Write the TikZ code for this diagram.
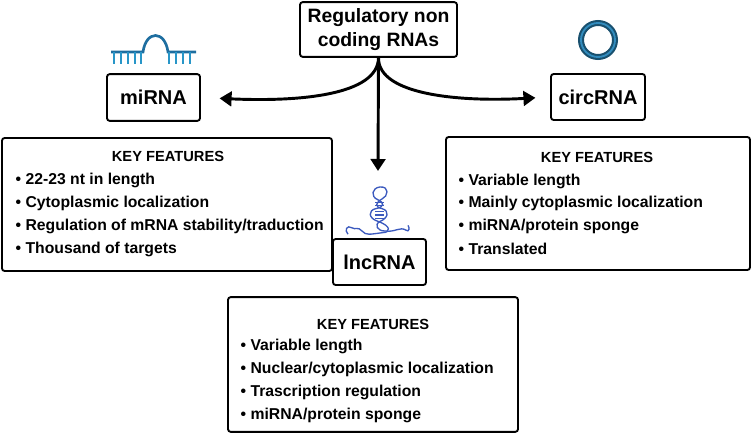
\documentclass[tikz,border=0pt]{standalone}
\usepackage{fontspec}
\setmainfont{Liberation Sans}
\usetikzlibrary{arrows.meta}
\begin{document}
\begin{tikzpicture}[x=0.75pt,y=-0.75pt,
  box/.style={draw,line width=1.4pt,rounded corners=2pt,inner sep=0pt},
  lab/.style={box,font=\bfseries\fontsize{15}{18}\selectfont},
  arr/.style={line width=2.2pt,-{Triangle[length=9pt,width=11pt]}},
  kf/.style={font=\bfseries\fontsize{11}{13}\selectfont},
  bl/.style={anchor=west,font=\bfseries\fontsize{11.8}{14}\selectfont},
  rna/.style={draw={rgb,255:red,30;green,110;blue,160},line width=1.6pt}]
\useasboundingbox (0,0) rectangle (752,434);
% main boxes
\node[lab,minimum width=117.75pt,minimum height=41pt,align=center,font=\bfseries\fontsize{14.5}{18}\selectfont] (top) at (378.5,29.5) {Regulatory non\\coding RNAs};
\node[lab,minimum width=69.75pt,minimum height=35pt] (mi) at (153.5,97.5) {miRNA};
\node[lab,minimum width=70.5pt,minimum height=34.5pt] (circ) at (598,97) {circRNA};
\node[lab,minimum width=69.75pt,minimum height=34.5pt] (lnc) at (379.5,262) {lncRNA};
% arrows
\draw[arr,shorten >=14pt] (top.south) .. controls (378,95) and (300,102) .. (mi.east);
\draw[arr,shorten >=11pt] (top.south) .. controls (378,95) and (460,102) .. (circ.west);
\coordinate (dn) at (378,171);
\draw[arr] (top.south) -- (dn);
% feature boxes
\node[box,minimum width=247.5pt,minimum height=99.75pt] (fl) at (167,204.5) {};
\node[kf] (fla) at (168,156) {KEY FEATURES};
\node[bl] (fl1) at (11,180) {• 22-23 nt in length};
\node[bl] (fl2) at (11,203) {• Cytoplasmic localization};
\node[bl] (fl3) at (11,226) {• Regulation of mRNA stability/traduction};
\node[bl] (fl4) at (11,249) {• Thousand of targets};
\node[box,minimum width=228pt,minimum height=99.75pt] (fr) at (598,203.5) {};
\node[kf] (fra) at (597,157) {KEY FEATURES};
\node[bl] (fr1) at (454,181) {• Variable length};
\node[bl] (fr2) at (454,203) {• Mainly cytoplasmic localization};
\node[bl] (fr3) at (454,226) {• miRNA/protein sponge};
\node[bl] (fr4) at (454,249) {• Translated};
\node[box,minimum width=217.5pt,minimum height=101pt] (fb) at (373,364.5) {};
\node[kf] (fba) at (373,324) {KEY FEATURES};
\node[bl] (fb1) at (236,346) {• Variable length};
\node[bl] (fb2) at (236,369) {• Nuclear/cytoplasmic localization};
\node[bl] (fb3) at (236,392) {• Trascription regulation};
\node[bl] (fb4) at (236,415) {• miRNA/protein sponge};
% miRNA icon
\draw[rna,line width=2pt] (111,52) -- (143,52) .. controls (146,30) and (165,30) .. (168,52) -- (196,52);
\foreach \x in {114,121,128,135,141,169,176,183,190}
  \draw[rna,draw={rgb,255:red,40;green,150;blue,200},line width=1.6pt] (\x,52) -- (\x,64);
% circRNA icon
\draw[line width=4.5pt,draw={rgb,255:red,25;green,80;blue,110}] (598,40) circle (17);
\draw[line width=1.4pt,draw={rgb,255:red,50;green,140;blue,190}] (598,40) circle (17);
% lncRNA icon
\begin{scope}[draw={rgb,255:red,60;green,90;blue,190},line width=1pt,shift={(0,187)},yscale=0.8,shift={(0,-181)}]
\draw (383,238) .. controls (390,238) and (392,230) .. (378,224) .. controls (368,220) and (368,210) .. (376,208) .. controls (385,206) and (384,200) .. (378,197) ;
\draw (378,197) .. controls (370,193) and (372,182) .. (380,181) .. controls (390,180) and (388,193) .. (382,196) .. controls (376,200) and (374,206) .. (382,208) .. controls (390,211) and (388,220) .. (380,224) .. controls (374,228) and (377,236) .. (385,236);
\foreach \y in {200,204,212,216,220}
  \draw (375,\y) -- (384,\y);
\draw (385,236) .. controls (395,238) and (400,230) .. (406,235) .. controls (409,238) and (410,232) .. (408,229);
\draw (383,238) .. controls (370,240) and (366,242) .. (362,236) .. controls (358,230) and (355,235) .. (352,232) .. controls (347,228) and (344,235) .. (348,240);
\end{scope}
\end{tikzpicture}
\end{document}
